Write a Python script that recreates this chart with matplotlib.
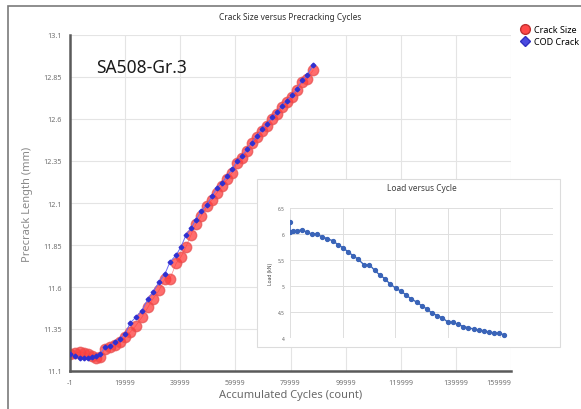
import matplotlib
matplotlib.use('Agg')
import matplotlib.pyplot as plt
from matplotlib.patches import Rectangle
from matplotlib.lines import Line2D

plt.rcParams['font.family'] = ['Noto Sans', 'DejaVu Sans']

# crack data (cycles, mm)
cycles = [0, 1800, 3600, 5100, 6500, 8000, 9400, 10900, 12700, 14500, 16300, 18100,
          20000, 21800, 23900, 26100, 28300, 30100, 32300, 34500, 36300, 38500, 40300,
          42100, 43900, 45700, 47500, 49700, 51500, 53300, 55100, 57000, 58800, 60600,
          62400, 64200, 66000, 67800, 69700, 71500, 73300, 75100, 76900, 78700, 80500,
          82400, 84200, 86000, 88200]
crack_size = [11.20, 11.205, 11.215, 11.21, 11.20, 11.19, 11.18, 11.185, 11.23, 11.24,
              11.255, 11.27, 11.30, 11.33, 11.37, 11.42, 11.48, 11.53, 11.58, 11.65,
              11.65, 11.74, 11.78, 11.84, 11.91, 11.975, 12.02, 12.08, 12.12, 12.16,
              12.20, 12.24, 12.28, 12.34, 12.37, 12.41, 12.46, 12.49, 12.53, 12.56,
              12.60, 12.63, 12.67, 12.70, 12.73, 12.77, 12.82, 12.84, 12.89]
cod_crack = [11.20, 11.19, 11.18, 11.18, 11.18, 11.185, 11.19, 11.20, 11.24, 11.25,
             11.27, 11.29, 11.32, 11.385, 11.42, 11.46, 11.53, 11.57, 11.63, 11.68,
             11.75, 11.79, 11.84, 11.91, 11.95, 12.00, 12.05, 12.09, 12.14, 12.19,
             12.22, 12.26, 12.30, 12.35, 12.38, 12.42, 12.46, 12.50, 12.54, 12.57,
             12.61, 12.64, 12.68, 12.71, 12.74, 12.78, 12.83, 12.86, 12.92]

# load data (cycles, kN)
load_cycles = [0, 0, 1300, 2500, 4400, 6300, 8200, 10100, 12000, 14200, 16200, 18400,
               20300, 22200, 24100, 26000, 28100, 30200, 32200, 34200, 36100, 38000,
               40200, 42200, 44100, 46100, 48200, 50100, 52000, 54000, 56000, 57900,
               59900, 61800, 64000, 65900, 67800, 69800, 71900, 73900, 75800, 77700,
               79600, 81500, 83600]
load = [6.23, 6.04, 6.05, 6.06, 6.08, 6.04, 6.00, 6.00, 5.95, 5.91, 5.87, 5.79, 5.73,
        5.65, 5.58, 5.51, 5.41, 5.41, 5.30, 5.21, 5.14, 5.04, 4.96, 4.90, 4.83, 4.75,
        4.69, 4.62, 4.56, 4.48, 4.43, 4.39, 4.31, 4.30, 4.26, 4.22, 4.20, 4.17, 4.15,
        4.14, 4.11, 4.10, 4.09, 4.06]
load_cycles = load_cycles[:len(load)]

xticks = [-1, 19999, 39999, 59999, 79999, 99999, 119999, 139999, 159999]
yticks = [11.1, 11.35, 11.6, 11.85, 12.1, 12.35, 12.6, 12.85, 13.1]
load_ticks = [4, 4.5, 5, 5.5, 6, 6.5]

fig = plt.figure(figsize=(5.81, 4.10), dpi=100)
fig.patches.append(Rectangle((8/581, -0.1), 1.2, 1.1 - 7/410, transform=fig.transFigure,
                             fill=False, edgecolor='#7a7a7a', linewidth=1.2))

ax = fig.add_axes([70/581, 38/410, 441/581, 336/410])
ax.plot(cycles, cod_crack, color='#6a6af5', linewidth=0.7, marker='D', markersize=2.4,
        markerfacecolor='#3030d0', markeredgecolor='#3030d0', zorder=3)
ax.plot(cycles, crack_size, color='#ff6060', linewidth=0.5, marker='o', markersize=7.5,
        markerfacecolor='#ff3c3c', markeredgecolor='#e85050', alpha=0.75, zorder=2)
ax.set_xlim(-1, 159999)
ax.set_ylim(11.1, 13.1)
ax.set_xticks(xticks)
ax.set_xticklabels([str(t) for t in xticks])
ax.set_yticks(yticks)
ax.set_yticklabels(['11.1', '11.35', '11.6', '11.85', '12.1', '12.35', '12.6', '12.85', '13.1'])
ax.get_xticklabels()[-1].set_ha('right')
ax.grid(True, color='#e4e4e4', linewidth=0.8)
ax.set_axisbelow(True)
for s in ['top', 'right']:
    ax.spines[s].set_visible(False)
for s in ['left', 'bottom']:
    ax.spines[s].set_color('#5a5a5a')
    ax.spines[s].set_linewidth(1.8)
ax.tick_params(length=0, labelsize=5.2, colors='#707070', pad=6)
ax.set_xlabel('Accumulated Cycles (count)', fontsize=8, color='#6a6a6a', labelpad=2)
ax.set_ylabel('Precrack Length (mm)', fontsize=8, color='#8a8a8a', labelpad=7)
ax.text(0.06, 0.905, 'SA508-Gr.3', transform=ax.transAxes, fontsize=12.5,
        color='#1a1a1a', va='center')
fig.text(290/581, 1 - 17/410, 'Crack Size versus Precracking Cycles', fontsize=6,
         color='#303030', ha='center', va='center')

handles = [Line2D([], [], linestyle='none', marker='o', markersize=7,
                  markerfacecolor='#ff4848', markeredgecolor='#c03030'),
           Line2D([], [], linestyle='none', marker='D', markersize=5,
                  markerfacecolor='#4a4ae0', markeredgecolor='#3030c0')]
fig.legend(handles, ['Crack Size', 'COD Crack'], loc='upper left',
           bbox_to_anchor=(520/581, 1 - 26/410), frameon=False, fontsize=6.5,
           handletextpad=0.3, labelspacing=0.3, borderaxespad=0, borderpad=0,
           handlelength=1.2)

# inset panel
fig.patches.append(Rectangle((257/581, 1 - 348/410), 303/581, 168/410,
                             transform=fig.transFigure, facecolor='white',
                             edgecolor='#dcdcdc', linewidth=0.8, zorder=5))
ins = fig.add_axes([290/581, 1 - 339/410, 263/581, 130/410], zorder=6)
ins.plot(load_cycles, load, color='#3a64b8', linewidth=1.0, marker='o', markersize=2.8,
         markerfacecolor='#3a64b8', markeredgecolor='#3a64b8')
ins.set_xlim(0, 100000)
ins.set_ylim(4, 6.5)
ins.set_xticks([0, 20000, 40000, 60000, 80000, 100000])
ins.set_xticklabels([])
ins.set_yticks(load_ticks)
ins.set_yticklabels(['4', '4.5', '5', '5.5', '6', '6.5'])
ins.grid(True, color='#dedede', linewidth=0.7)
ins.set_axisbelow(True)
for s in ins.spines.values():
    s.set_visible(False)
ins.tick_params(length=0, labelsize=3.5, colors='#606060', pad=4)
ins.set_ylabel('Load (kN)', fontsize=3.5, color='#404040', labelpad=3)
ins.set_title('Load versus Cycle', fontsize=6, color='#404040', pad=13)

fig.savefig('out.png', dpi=100)
